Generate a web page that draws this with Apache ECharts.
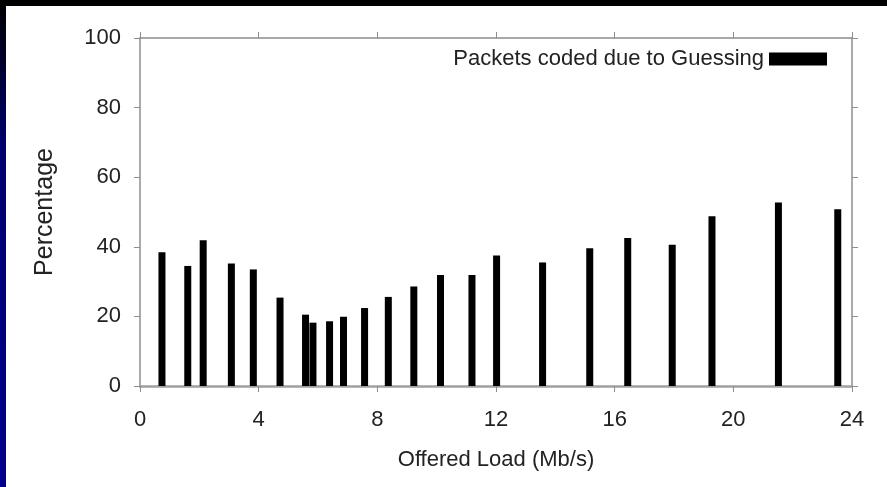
<!DOCTYPE html>
<html>
<head>
<meta charset="utf-8">
<script src="https://cdn.jsdelivr.net/npm/echarts@6/dist/echarts.min.js"></script>
<style>
html,body{margin:0;padding:0;background:#fff;}
#chart{width:887px;height:487px;}
</style>
</head>
<body>
<div id="chart"></div>
<script>
// Offered load (Mb/s) of each bar
const offeredLoad = [0.74, 1.61, 2.13, 3.08, 3.82, 4.72, 5.58, 5.83, 6.39, 6.86, 7.57, 8.37, 9.23, 10.13, 11.19, 12.02, 13.57, 15.16, 16.44, 17.94, 19.28, 21.52, 23.52];
// Percentage of packets coded due to guessing
const percentage = [38.4, 34.5, 41.9, 35.2, 33.5, 25.4, 20.5, 18.2, 18.6, 19.9, 22.4, 25.6, 28.6, 31.9, 31.9, 37.5, 35.5, 39.6, 42.5, 40.6, 48.8, 52.7, 50.8];
const xTicks = [0, 4, 8, 12, 16, 20, 24];
const yTicks = [0, 20, 40, 60, 80, 100];
const seriesName = 'Packets coded due to Guessing';
const xTitle = 'Offered Load (Mb/s)';
const yTitle = 'Percentage';

const FONT = '"Liberation Sans", Arial, sans-serif';
const TXT = '#222';
const AX = '#8c8c8c';

const chart = echarts.init(document.getElementById('chart'), null, {renderer: 'canvas'});

const baseX = {
  type: 'value', min: xTicks[0], max: xTicks[xTicks.length - 1], interval: xTicks[1] - xTicks[0],
  splitLine: {show: false}
};
const baseY = {
  type: 'value', min: yTicks[0], max: yTicks[yTicks.length - 1], interval: yTicks[1] - yTicks[0],
  splitLine: {show: false}
};

chart.setOption({
  backgroundColor: '#fff',
  animation: false,
  graphic: [
    {type: 'rect', left: 0, top: 0, shape: {width: 887, height: 6}, style: {fill: '#000'}, z: 100},
    {type: 'rect', left: 0, top: 0, shape: {width: 6, height: 487},
      style: {fill: new echarts.graphic.LinearGradient(0, 0, 0, 1, [
        {offset: 0, color: '#000000'},
        {offset: 0.3, color: '#00006e'},
        {offset: 1, color: '#00008c'}
      ])}, z: 100}
  ],
  grid: {left: 140, right: 35, top: 38, bottom: 101, containLabel: false},
  legend: {
    show: true,
    data: [seriesName],
    right: 55,
    top: 43,
    align: 'right',
    icon: 'rect',
    itemWidth: 58,
    itemHeight: 13,
    itemGap: 14,
    textStyle: {fontFamily: FONT, fontSize: 22, color: TXT}
  },
  xAxis: [
    Object.assign({}, baseX, {
      position: 'bottom',
      name: xTitle, nameLocation: 'middle', nameGap: 63,
      nameTextStyle: {fontFamily: FONT, fontSize: 22, color: TXT},
      axisLine: {show: true, onZero: false, lineStyle: {color: '#a0a0a0', width: 2.5}},
      axisTick: {show: true, length: 6, lineStyle: {color: AX, width: 1}},
      axisLabel: {show: true, margin: 23, fontFamily: FONT, fontSize: 22, color: TXT,
        formatter: v => xTicks.includes(v) ? String(v) : ''}
    }),
    Object.assign({}, baseX, {
      position: 'top',
      axisLine: {show: true, onZero: false, lineStyle: {color: AX, width: 1.5}},
      axisTick: {show: true, length: 6, lineStyle: {color: AX, width: 1}},
      axisLabel: {show: false}
    })
  ],
  yAxis: [
    Object.assign({}, baseY, {
      position: 'left',
      name: yTitle, nameLocation: 'middle', nameGap: 82,
      nameTextStyle: {fontFamily: FONT, fontSize: 25, color: TXT},
      axisLine: {show: true, onZero: false, lineStyle: {color: AX, width: 1.5}},
      axisTick: {show: true, length: 6, lineStyle: {color: AX, width: 1}},
      axisLabel: {show: true, margin: 19, fontFamily: FONT, fontSize: 22, color: TXT,
        formatter: v => yTicks.includes(v) ? String(v) : ''}
    }),
    Object.assign({}, baseY, {
      position: 'right',
      axisLine: {show: true, onZero: false, lineStyle: {color: AX, width: 1.5}},
      axisTick: {show: true, length: 6, lineStyle: {color: AX, width: 1}},
      axisLabel: {show: false}
    })
  ],
  series: [{
    name: seriesName,
    type: 'bar',
    xAxisIndex: 0,
    yAxisIndex: 0,
    barWidth: 7,
    itemStyle: {color: '#000'},
    data: offeredLoad.map((x, i) => [x, percentage[i]])
  }]
});
</script>
</body>
</html>
